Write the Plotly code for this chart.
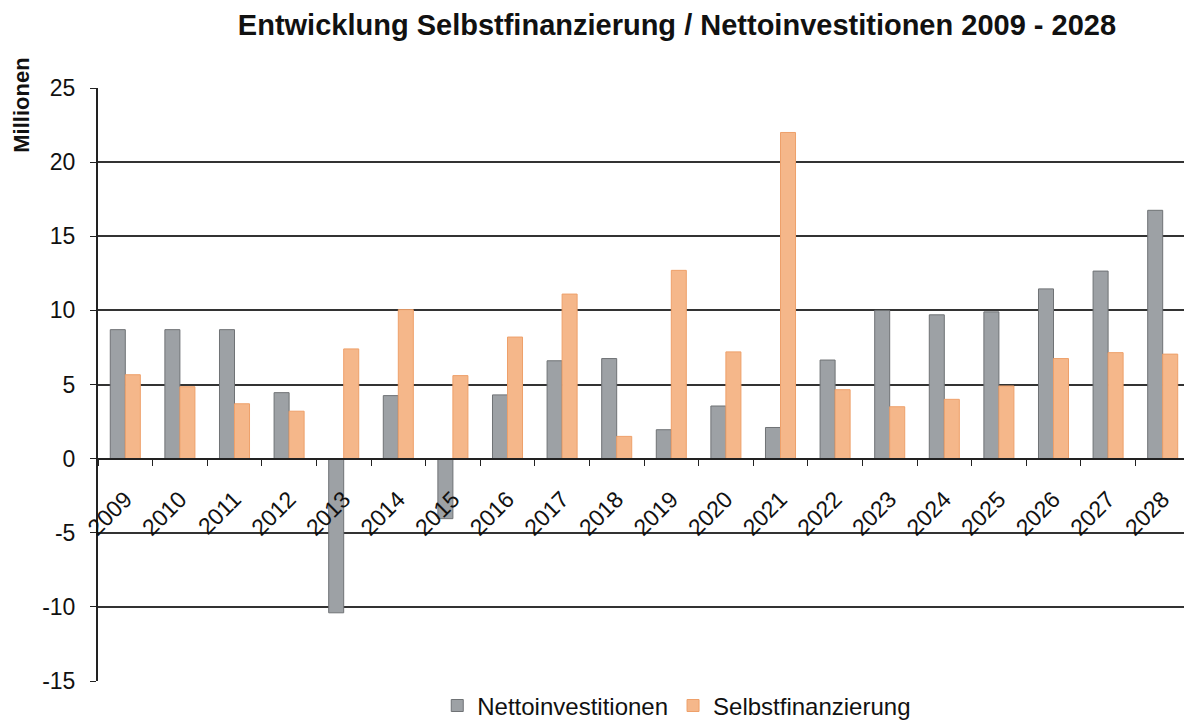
import plotly.graph_objects as go

years = [str(y) for y in range(2009, 2029)]
netto = [8.7, 8.7, 8.7, 4.45, -10.4, 4.25, -4.05, 4.3, 6.6, 6.75,
         1.95, 3.55, 2.1, 6.65, 10.0, 9.7, 9.9, 11.45, 12.65, 16.75]
selbst = [5.66, 4.85, 3.7, 3.2, 7.4, 10.05, 5.6, 8.2, 11.1, 1.5,
          12.7, 7.2, 22.0, 4.65, 3.5, 4.0, 4.9, 6.75, 7.15, 7.05]
y_ticks = [-15, -10, -5, 0, 5, 10, 15, 20, 25]
y_labels = ["-15", "-10", "-5", "0", "5", "10", "15", "20", "25"]

font_family = "Liberation Sans, Arial, sans-serif"

fig = go.Figure()
fig.add_trace(go.Bar(x=years, y=netto, name="Nettoinvestitionen",
                     marker=dict(color="#9da1a5", line=dict(color="#6f7275", width=1))))
fig.add_trace(go.Bar(x=years, y=selbst, name="Selbstfinanzierung",
                     marker=dict(color="#f5b78a", line=dict(color="#eea06a", width=1))))

# page body has an 8px margin, so the figure is offset to compensate
fig.update_layout(
    width=1184, height=730,
    margin=dict(l=90, r=2, t=80, b=57),
    plot_bgcolor="white", paper_bgcolor="white",
    barmode="group", bargap=0.45, bargroupgap=0,
    font=dict(family=font_family, color="#111111", size=22),
    title=dict(text="<b>Entwicklung Selbstfinanzierung / Nettoinvestitionen 2009 - 2028</b>",
               x=0.565, xref="container", xanchor="center",
               y=1 - 17 / 730, yref="container", yanchor="middle",
               font=dict(size=29, family=font_family, color="#111111")),
    legend=dict(orientation="h", x=0.53, xanchor="center", y=-0.042, yanchor="middle",
                font=dict(size=24), itemwidth=30, traceorder="normal"),
    showlegend=True,
)

fig.update_yaxes(range=[-15, 25], tickvals=y_ticks, ticktext=y_labels,
                 showgrid=True, gridcolor="#333333", gridwidth=1.5,
                 zeroline=False, showline=True, linecolor="#222222", linewidth=2,
                 ticks="outside", ticklen=6, tickcolor="#222222", ticklabelstandoff=10,
                 tickfont=dict(size=23, color="#111111"), automargin=False)

fig.update_xaxes(type="category", anchor="free", position=0.375,
                 showline=True, linecolor="#222222", linewidth=2,
                 ticks="outside", tickson="boundaries", ticklen=6, tickcolor="#222222",
                 tickangle=-45, tickfont=dict(size=23, color="#111111"),
                 ticklabelstandoff=17,
                 showgrid=False, zeroline=False, automargin=False)

# right border line
fig.add_shape(type="line", xref="paper", yref="paper", x0=1, x1=1, y0=0, y1=1,
              line=dict(color="#333333", width=1.5))

fig.add_annotation(text="<b>Millionen</b>", textangle=-90, xref="paper", yref="paper",
                   x=-0.07, y=0.971, showarrow=False, xanchor="center", yanchor="middle",
                   font=dict(size=22, family=font_family, color="#111111"))

fig.write_html("out.html")
